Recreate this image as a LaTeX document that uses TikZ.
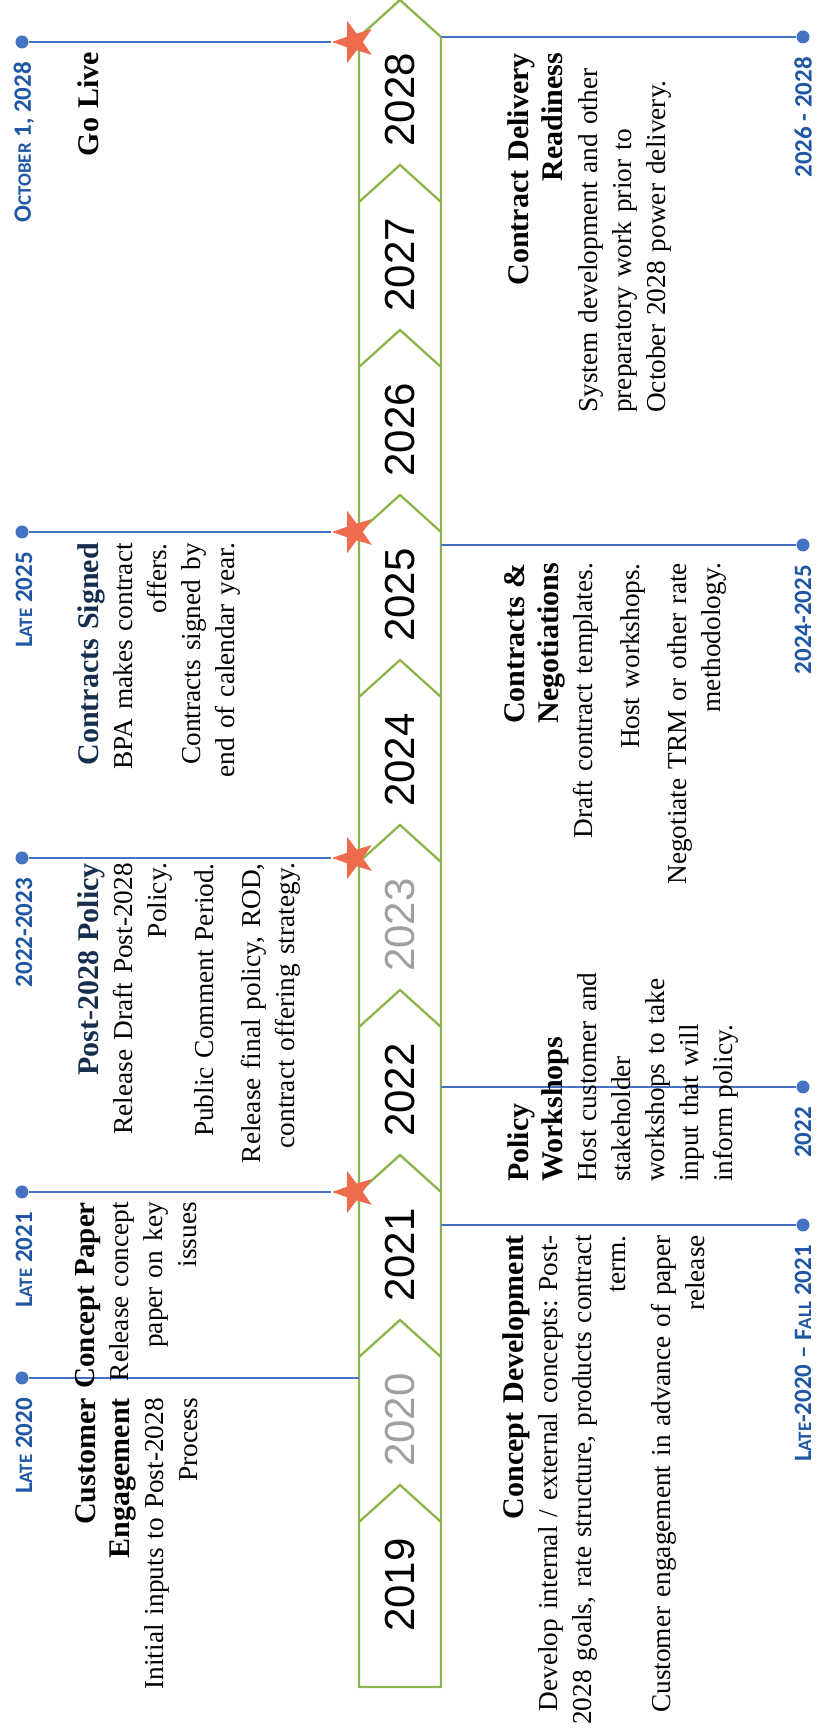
\documentclass[tikz,border=0pt]{standalone}
\usepackage{fontspec}
\setmainfont{Liberation Serif}
\newfontfamily\yearfont{Liberation Sans}
\newfontfamily\datefont{Carlito}
\usepackage{tikz}
\usetikzlibrary{shapes.geometric}
\frenchspacing

\definecolor{bandgreen}{RGB}{141,180,74}
\definecolor{linkblue}{RGB}{70,114,196}
\definecolor{datenavy}{RGB}{31,86,165}
\definecolor{starred}{RGB}{238,108,77}
\definecolor{titlenavy}{RGB}{24,46,78}
\definecolor{fadegray}{RGB}{160,160,160}

\newcommand{\fakesc}[1]{{\fontsize{19}{19}\selectfont #1}}
\newcommand{\evttitle}[1]{{\fontsize{30}{34}\selectfont\bfseries #1}}

\begin{document}
\begin{tikzpicture}[x=1pt, y=1pt, rotate=90, transform shape,
    band/.style={draw=bandgreen, line width=2.3pt, line join=miter},
    year/.style={font=\yearfont\fontsize{42}{42}\selectfont, inner sep=0pt},
    dot/.style={circle, fill=linkblue, minimum size=13pt, inner sep=0pt},
    milestone/.style={star, star points=5, star point ratio=2.5, minimum size=44pt, inner sep=0pt, fill=starred},
    link/.style={draw=linkblue, line width=1.7pt},
    date/.style={text=datenavy, font=\datefont\bfseries\fontsize{25}{25}\selectfont, inner sep=0pt, anchor=east},
    info/.style={font=\fontsize{27.3}{34}\selectfont, inner sep=0pt, text width=520pt}]

    \useasboundingbox (-46,-417) rectangle (1687,400);

    \draw[band] (1650,41) -- (0,41) -- (0,-41) -- (1650,-41) -- (1687,0) -- cycle;
    \foreach \k in {1,...,9}
        \draw[band] (165*\k,41) -- (165*\k+37,0) -- (165*\k,-41);

    \foreach \yr/\col [count=\j from 0] in {2019/black, 2020/fadegray, 2021/black, 2022/black, 2023/fadegray,
                                         2024/black, 2025/black, 2026/black, 2027/black, 2028/black}
        \node[year, text=\col] (y\yr) at (165*\j+102, 0) {\yr};

    \node[dot]         (d20) at (309, 378)     {};
    \coordinate        (e20) at (309, 41);
    \node[dot]         (d21) at (495, 378)     {};
    \node[milestone]   (s21) at (495, 46)      {};
    \node[dot]         (d23) at (829, 378)     {};
    \node[milestone]   (s23) at (829, 46)      {};
    \node[dot]         (d25) at (1155, 378)    {};
    \node[milestone]   (s25) at (1155, 46)     {};
    \node[dot]         (d28) at (1645, 378)    {};
    \node[milestone]   (s28) at (1645, 46)     {};

    \coordinate        (e2021) at (462, -41);
    \node[dot]         (r2021) at (462, -403)  {};
    \coordinate        (e22)   at (600, -41);
    \node[dot]         (r22)   at (600, -403)  {};
    \coordinate        (e2425) at (1142, -41);
    \node[dot]         (r2425) at (1142, -403) {};
    \coordinate        (e2628) at (1650, -41);
    \node[dot]         (r2628) at (1650, -403) {};

    \draw[link] (d20) -- (e20);
    \draw[link] (d21) -- (s21);
    \draw[link] (d23) -- (s23);
    \draw[link] (d25) -- (s25);
    \draw[link] (d28) -- (s28);
    \draw[link] (e2021) -- (r2021);
    \draw[link] (e22) -- (r22);
    \draw[link] (e2425) -- (r2425);
    \draw[link] (e2628) -- (r2628);

    \node[date] (t20)   at (289, 376)   {L\fakesc{ATE} 2020};
    \node[date] (t21)   at (475, 376)   {L\fakesc{ATE} 2021};
    \node[date] (t23)   at (809, 376)   {2022-2023};
    \node[date] (t25)   at (1135, 376)  {L\fakesc{ATE} 2025};
    \node[date] (t28)   at (1625, 376)  {O\fakesc{CTOBER} 1, 2028};
    \node[date] (t2021) at (442, -403)  {L\fakesc{ATE}-2020 \textendash{} F\fakesc{ALL} 2021};
    \node[date] (t22)   at (580, -403)  {2022};
    \node[date] (t2425) at (1122, -403) {2024-2025};
    \node[date] (t2628) at (1630, -403) {2026 - 2028};

    \node[info, anchor=north east, align=right] (ce) at (289, 325)
        {\evttitle{Customer\\ Engagement}\\ Initial inputs to Post-2028\\ Process};
    \node[info, anchor=north east, align=right] (cp) at (485, 325)
        {{\fontsize{29}{34}\selectfont\bfseries Concept Paper}\\ Release concept\\ paper on key\\ issues};
    \node[info, anchor=north east, align=right] (pp) at (824, 323)
        {\evttitle{\color{titlenavy}Post-2028 Policy}\\ Release Draft Post-2028\\ Policy.\\[13pt]
         Public Comment Period.\\[13pt] Release final policy, ROD,\\ contract offering strategy.};
    \node[info, anchor=north east, align=right] (cs) at (1144, 323)
        {\evttitle{\color{titlenavy}Contracts Signed}\\ BPA makes contract\\ offers.\\
         Contracts signed by\\ end of calendar year.};
    \node[info, anchor=north east, align=right] (gl) at (1635, 323)
        {\evttitle{Go Live}};

    \node[info, anchor=north east, align=right] (cd) at (452, -102)
        {\evttitle{Concept Development}\\ Develop internal / external concepts: Post-\\
         2028 goals, rate structure, products contract\\ term.\\[11pt]
         Customer engagement in advance of paper\\ release};
    \node[info, anchor=north west, align=left] (pw) at (505, -107)
        {\evttitle{Policy\\ Workshops}\\ Host customer and\\ stakeholder\\ workshops to take\\
         input that will\\ inform policy.};
    \node[info, anchor=north east, align=right] (cn) at (1124, -104)
        {\evttitle{Contracts \&\\ Negotiations}\\ Draft contract templates.\\[13pt]
         Host workshops.\\[13pt] Negotiate TRM or other rate\\ methodology.};
    \node[info, anchor=north east, align=right] (cr) at (1634, -107)
        {\evttitle{Contract Delivery\\ Readiness}};
    \node[info, anchor=north west, align=left] (crb) at (1274, -178)
        {System development and other\\ preparatory work prior to\\ October 2028 power delivery.};
  \end{tikzpicture}
\end{document}
